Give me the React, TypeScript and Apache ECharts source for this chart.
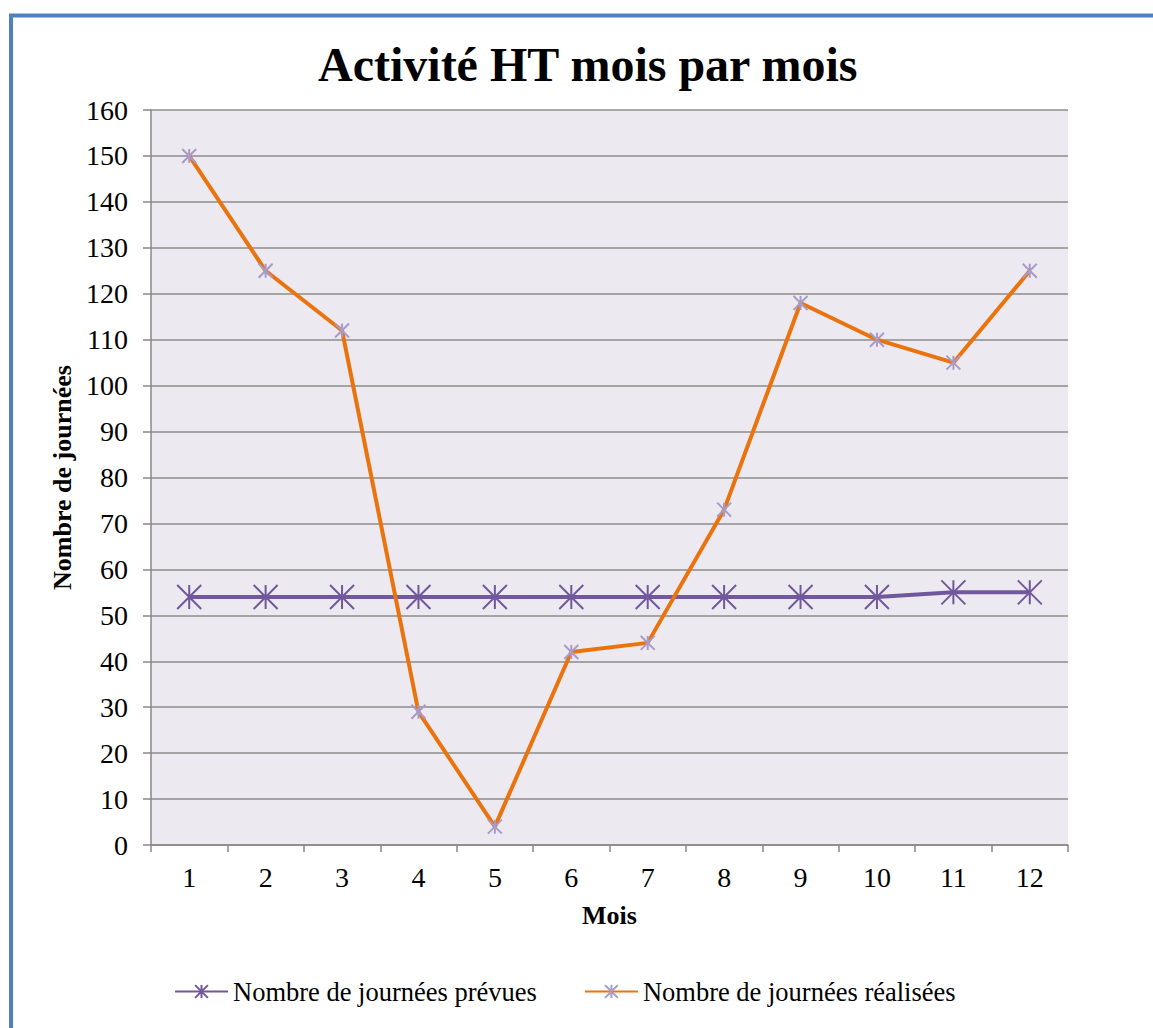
import React, { useEffect, useRef } from "react";
import * as echarts from "echarts";

const months = ["1", "2", "3", "4", "5", "6", "7", "8", "9", "10", "11", "12"];
const prevues = [54, 54, 54, 54, 54, 54, 54, 54, 54, 54, 55, 55];
const realisees = [150, 125, 112, 29, 4, 42, 44, 73, 118, 110, 105, 125];
const yTicks = { min: 0, max: 160, interval: 10 };

const TITLE = "Activité HT mois par mois";
const SERIES_NAMES = ["Nombre de journées prévues", "Nombre de journées réalisées"];
const FONT = "'Liberation Serif', 'Times New Roman', serif";
const STAR = "path://M0,0L10,10M10,0L0,10M5,0L5,10";

export default function App() {
  const ref = useRef<HTMLDivElement>(null);
  useEffect(() => {
    if (!ref.current) return;
    const chart = echarts.init(ref.current, undefined, { renderer: "svg" });
    chart.setOption({
      animation: false,
      backgroundColor: "#ffffff",
      textStyle: { fontFamily: FONT, color: "#000" },
      title: {
        text: TITLE,
        left: 318,
        top: 40,
        padding: 0,
        textStyle: { fontFamily: FONT, fontSize: 48, fontWeight: "bold", color: "#000" },
      },
      graphic: [
        {
          type: "rect",
          shape: { x: 11, y: 15.5, width: 1300, height: 1200 },
          style: { fill: "none", stroke: "#4F81BD", lineWidth: 4 },
          silent: true,
        },
      ],
      legend: {
        top: 978,
        left: 174,
        padding: 0,
        itemWidth: 53,
        itemHeight: 16,
        itemGap: 47,
        textStyle: { fontFamily: FONT, fontSize: 26.5, color: "#000" },
        data: SERIES_NAMES,
      },
      grid: {
        left: 151,
        right: 85,
        top: 110,
        bottom: 183,
        show: true,
        backgroundColor: "#ECEAF0",
        borderWidth: 0,
      },
      xAxis: {
        type: "category",
        data: months,
        boundaryGap: true,
        name: "Mois",
        nameLocation: "middle",
        nameGap: 57,
        nameTextStyle: { fontFamily: FONT, fontSize: 26, fontWeight: "bold", color: "#000" },
        axisLine: { show: true, lineStyle: { color: "#888888", width: 1.5 } },
        axisTick: { show: true, length: 7, inside: false, lineStyle: { color: "#888888", width: 1.5 } },
        axisLabel: { fontFamily: FONT, fontSize: 28, color: "#000", margin: 18 },
        splitLine: { show: false },
      },
      yAxis: {
        type: "value",
        min: yTicks.min,
        max: yTicks.max,
        interval: yTicks.interval,
        name: "Nombre de journées",
        nameLocation: "middle",
        nameGap: 74,
        nameRotate: 90,
        nameTextStyle: { fontFamily: FONT, fontSize: 26, fontWeight: "bold", color: "#000" },
        axisLine: { show: true, lineStyle: { color: "#888888", width: 1.5 } },
        axisTick: { show: true, length: 8, lineStyle: { color: "#888888", width: 1.5 } },
        axisLabel: { fontFamily: FONT, fontSize: 28, color: "#000", margin: 23 },
        splitLine: { show: true, lineStyle: { color: "#8C8C8C", width: 1.5 } },
      },
      series: [
        {
          name: SERIES_NAMES[0],
          type: "line",
          data: prevues,
          symbol: STAR,
          symbolSize: 24,
          lineStyle: { color: "#71589C", width: 4 },
          itemStyle: { color: "#71589C", borderColor: "#71589C", borderWidth: 2 },
          z: 3,
        },
        {
          name: SERIES_NAMES[1],
          type: "line",
          data: realisees,
          symbol: STAR,
          symbolSize: 14,
          lineStyle: { color: "#EA730D", width: 4 },
          itemStyle: { color: "#A89BC8", borderColor: "#A89BC8", borderWidth: 2 },
          z: 4,
        },
      ],
    });
    return () => chart.dispose();
  }, []);
  return (
    <div
      ref={ref}
      style={{ position: "fixed", left: 0, top: 0, width: 1153, height: 1028 }}
    />
  );
}
